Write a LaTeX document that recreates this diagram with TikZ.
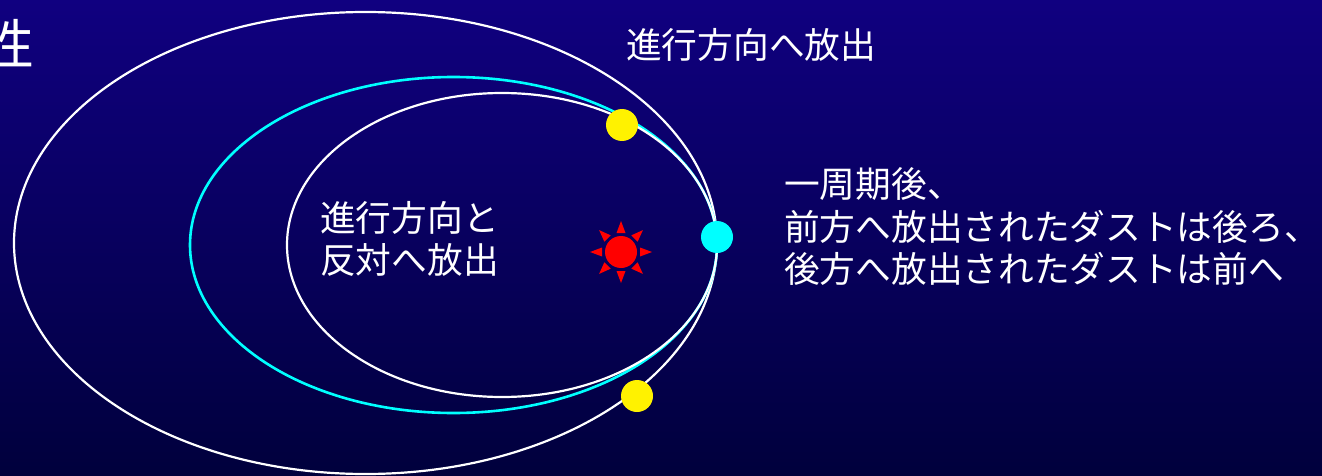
\documentclass[tikz,border=0pt]{standalone}
\usepackage{fontspec}
\setmainfont{Noto Sans CJK JP}
\usetikzlibrary{positioning}
\definecolor{skytop}{RGB}{16,0,128}
\definecolor{skybottom}{RGB}{0,0,60}
\definecolor{dustcyan}{RGB}{0,255,255}
\tikzset{
  caption/.style={text=white,font=\fontsize{35.7}{42.5}\selectfont,align=left,inner sep=0},
  dust/.style={circle,inner sep=0,minimum size=32pt},
  orbit/.style={draw=white,line width=2.2pt}
}
\begin{document}
\begin{tikzpicture}[x=1pt,y=-1pt]
% Background
\shade[top color=skytop,bottom color=skybottom] (0,0) rectangle (1322,476);
\useasboundingbox (0,0) rectangle (1322,476);
% Draw orbits, all touching at the ejection point
\draw[orbit] (365.5,243) ellipse [x radius=351.5pt,y radius=231pt];
\draw[orbit,draw=dustcyan,line width=2.6pt] (453.5,245) ellipse [x radius=263.5pt,y radius=168pt];
\draw[orbit] (502,245) ellipse [x radius=215pt,y radius=152pt];
% Draw sun
\node[circle,fill=red,minimum size=32pt,inner sep=0] (sun) at (621,252) {};
\foreach \a in {0,45,...,315} {
  \begin{scope}[shift={(sun.center)},rotate=\a]
    \fill[red] (19,-4.5) -- (31,0) -- (19,4.5) -- cycle;
  \end{scope}
}
% Draw dust
\node[dust,fill=yellow] (ahead) at (622,125) {};
\node[dust,fill=yellow] (behind) at (637,396) {};
\node[dust,fill=dustcyan] (parent) at (717,237) {};
% Labels
\node[text=white,font=\fontsize{54}{54}\selectfont,anchor=east,inner sep=0] (title) at (35,44) {性};
\node[caption,anchor=west] (forward) at (626,45) {進行方向へ放出};
\node[caption,anchor=west] (backward) at (320,239) {進行方向と\\反対へ放出};
\node[caption,anchor=west] (after) at (784,227) {一周期後、\\前方へ放出されたダストは後ろ、\\後方へ放出されたダストは前へ};
\end{tikzpicture}
\end{document}
